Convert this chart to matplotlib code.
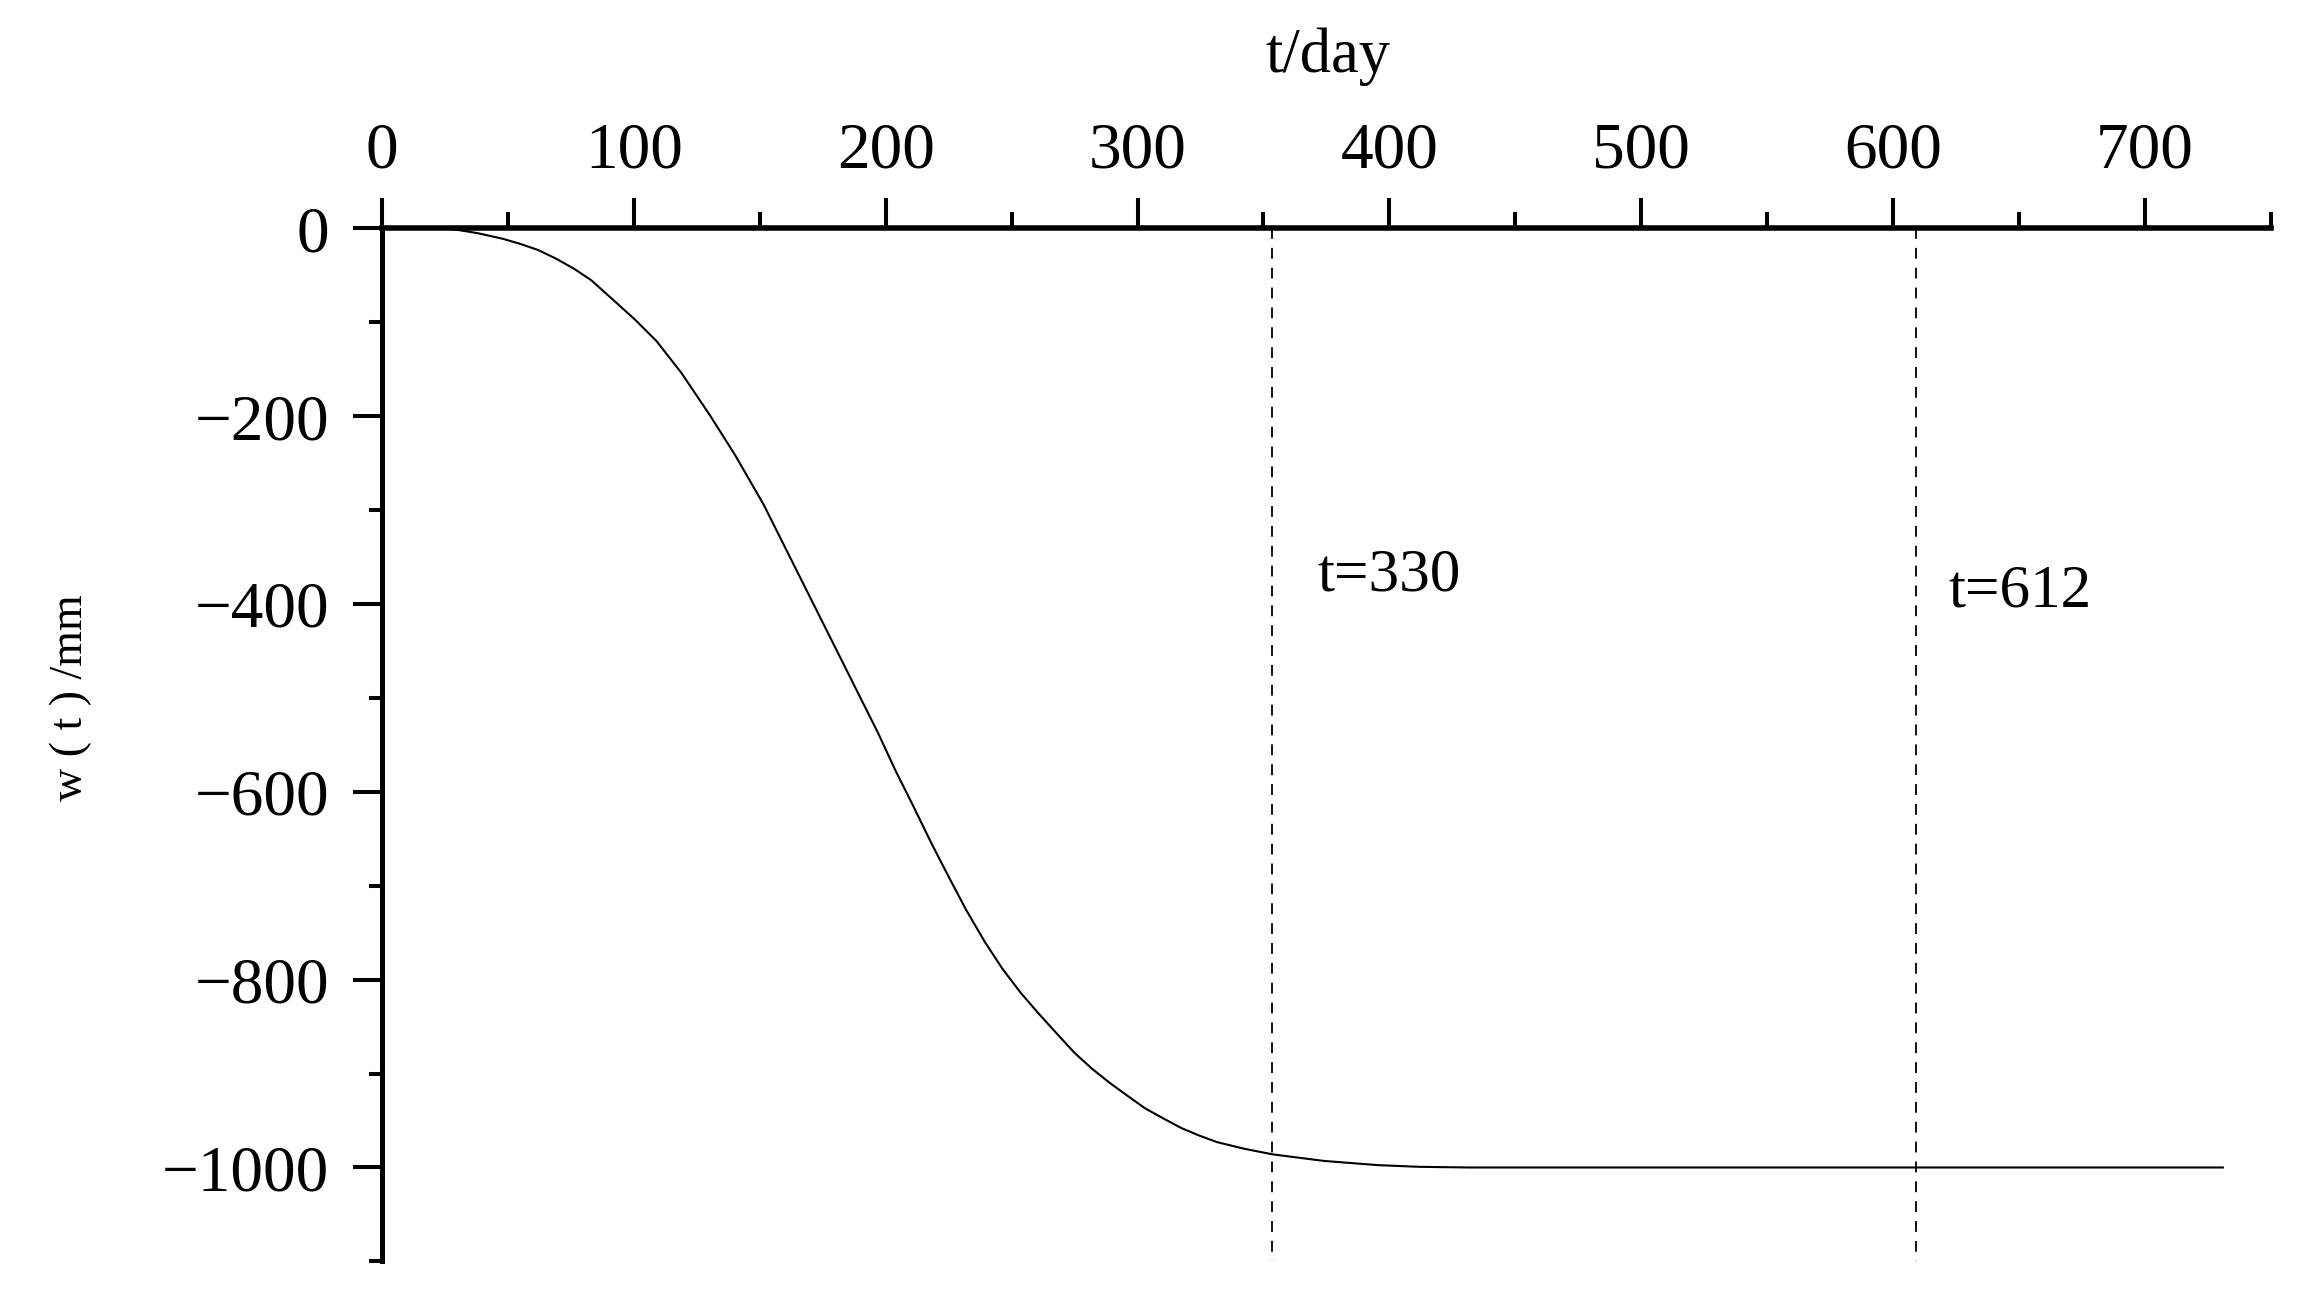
import matplotlib
matplotlib.use('Agg')
import matplotlib.pyplot as plt
from matplotlib.ticker import FixedLocator

# ---- data ----
t_days = [0, 25, 30, 38, 48, 55, 62, 69, 76.3, 83, 90.5, 100.4, 109, 118.9, 130.2,
          140.1, 151.5, 161.4, 172.8, 182.7, 192.6, 196.9, 204, 211.1, 218, 225.3,
          232, 239.4, 246.5, 253.6, 260.7, 267.8, 275, 282, 289, 296.2, 303, 310.4,
          317.4, 324.5, 331.6, 342.3, 353.6, 374, 395.5, 412, 432, 731]
w_mm = [0, 0, -1.5, -5, -11, -16.5, -23, -32, -43, -55, -73, -97, -120, -154, -199,
        -241, -294, -347, -408, -461, -514, -537, -578, -616, -654, -692,
        -726, -760, -789, -814, -836, -857, -878, -895, -910, -924, -937, -948,
        -958, -966, -973, -980, -986, -993, -997.5, -999.3, -1000, -1000]

marker_t = [353.5, 609.3]
marker_labels = ['t=330', 't=612']
marker_label_t = [371.4, 621.9]
marker_label_w = [-386, -403]

x_major = [0, 100, 200, 300, 400, 500, 600, 700]
x_minor = [50, 150, 250, 350, 450, 550, 650, 750]
y_major = [0, -200, -400, -600, -800, -1000]
y_minor = [-100, -300, -500, -700, -900, -1100]

x_title = 't/day'
y_title = 'w ( t ) /mm'

plt.rcParams['font.family'] = ['Liberation Serif', 'DejaVu Serif']

fig = plt.figure(figsize=(23.02, 13.09), dpi=100)
ax = fig.add_axes([0.1660, 0.03637, 0.8204, 0.78907])

ax.plot(t_days, w_mm, color='black', lw=1.5, clip_on=False, zorder=3)
for xv in marker_t:
    ax.plot([xv, xv], [0, -1100], color='black', lw=1.3, ls=(0, (6, 5)), zorder=2)
for tx, tw, lab in zip(marker_label_t, marker_label_w, marker_labels):
    ax.text(tx, tw, lab, ha='left', va='baseline', fontsize=44)

ax.set_xlim(0, 750)
ax.set_ylim(-1100, 0)

ax.spines['right'].set_visible(False)
ax.spines['bottom'].set_visible(False)
ax.spines['top'].set_linewidth(4.0)
ax.spines['left'].set_linewidth(3.6)

ax.xaxis.set_ticks_position('top')
ax.set_xticks(x_major)
ax.xaxis.set_minor_locator(FixedLocator(x_minor))
ax.set_yticks(y_major)
ax.yaxis.set_minor_locator(FixedLocator(y_minor))

ax.tick_params(axis='x', which='major', direction='out', length=21.6, width=2.9,
               pad=12, labelsize=47, top=True, bottom=False, labeltop=True, labelbottom=False)
ax.tick_params(axis='x', which='minor', direction='out', length=11.5, width=2.9,
               top=True, bottom=False)
ax.tick_params(axis='y', which='major', direction='out', length=21, width=2.9,
               pad=17, labelsize=47)
ax.tick_params(axis='y', which='minor', direction='out', length=9.4, width=2.9)

ax.text(-0.1647, 0.5455, y_title, transform=ax.transAxes, rotation=90,
        ha='center', va='center', fontsize=33)
fig.text(0.5769, 0.9567, x_title, ha='center', va='center', fontsize=45)

fig.savefig('out.png', dpi=100, facecolor='white')
